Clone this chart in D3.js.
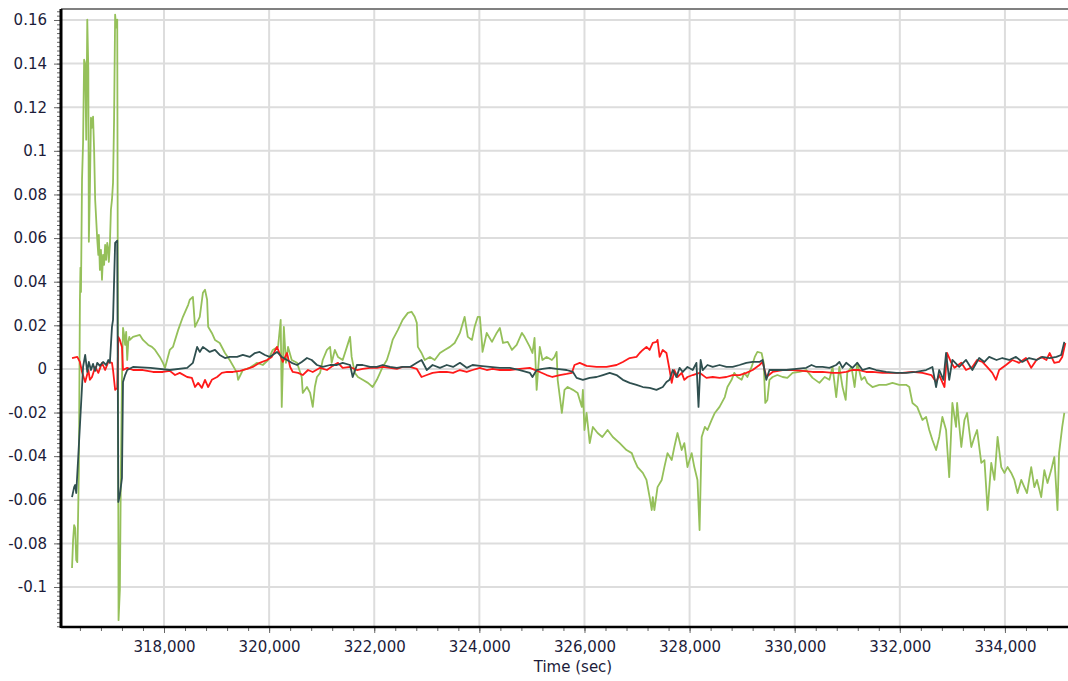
<!DOCTYPE html>
<meta charset="utf-8">
<style>
body { margin: 0; background: #fff; }
svg { display: block; }
.tick text { font-family: "DejaVu Sans", Verdana, sans-serif; font-size: 15px; fill: #1c1c3a; }
.axis-title { font-family: "DejaVu Sans", Verdana, sans-serif; font-size: 15px; fill: #1c1c3a; }
</style>
<script src="https://cdnjs.cloudflare.com/ajax/libs/d3/7.8.5/d3.min.js"></script>
<body></body>
<script>

var width = 1068;
var height = 681;
var plot = { left: 61, right: 1068, top: 9, bottom: 627 };

// tick values
var xTickValues = [318000, 320000, 322000, 324000, 326000, 328000, 330000, 332000, 334000];
var yTickValues = [0.16, 0.14, 0.12, 0.1, 0.08, 0.06, 0.04, 0.02, 0, -0.02, -0.04, -0.06, -0.08, -0.1];

// [time (sec), value]
var greenSeries = [
  [316250,-0.0913],[316270,-0.0785],[316290,-0.0716],[316310,-0.0730],[316330,-0.0877],[316350,-0.0886],
  [316380,-0.0464],[316400,0.0317],[316410,0.0464],[316420,0.0353],[316440,0.0868],[316460,0.1037],
  [316480,0.1418],[316500,0.1400],[316510,0.1235],[316520,0.1051],[316540,0.1602],[316560,0.1372],
  [316570,0.0583],[316590,0.0822],[316610,0.1152],[316630,0.1106],[316650,0.1157],[316670,0.1005],
  [316690,0.0776],[316730,0.0592],[316750,0.0523],[316760,0.0615],[316780,0.0454],[316800,0.0546],
  [316820,0.0409],[316840,0.0523],[316860,0.0477],[316880,0.0569],[316900,0.0500],[316920,0.0578],
  [316940,0.0546],[316950,0.0491],[316970,0.0569],[316990,0.0730],[317010,0.0776],[317030,0.0854],
  [317050,0.1143],[317070,0.1625],[317090,0.1565],[317110,0.1602],[317135,-0.1152],[317160,-0.1014],
  [317180,-0.0464],[317200,-0.0050],[317220,0.0188],[317240,0.0156],[317260,0.0110],[317280,0.0170],
  [317300,0.0041],[317320,0.0124],[317340,0.0147],[317350,0.0133],[317410,0.0147],[317540,0.0156],
  [317600,0.0133],[317700,0.0110],[317770,0.0101],[317830,0.0087],[317920,0.0055],[317980,0.0028],
  [318020,0.0005],[318110,0.0087],[318170,0.0101],[318270,0.0179],[318360,0.0239],[318460,0.0294],
  [318490,0.0317],[318550,0.0330],[318590,0.0193],[318680,0.0239],[318740,0.0349],[318780,0.0363],
  [318820,0.0317],[318840,0.0193],[318910,0.0165],[318970,0.0133],[319060,0.0119],[319160,0.0073],
  [319250,0.0041],[319390,-0.0018],[319410,-0.0050],[319500,-0.0005],[319630,0.0005],[319770,0.0028],
  [319880,0.0018],[319980,0.0041],[320070,0.0087],[320170,0.0101],[320220,0.0225],[320240,-0.0174],
  [320280,0.0193],[320320,0.0028],[320360,0.0101],[320430,0.0041],[320530,0.0028],[320620,-0.0037],
  [320640,-0.0110],[320720,-0.0083],[320780,-0.0110],[320830,-0.0174],[320870,-0.0083],[320910,-0.0037],
  [320970,-0.0018],[321020,0.0041],[321100,0.0087],[321160,0.0101],[321190,0.0028],[321250,0.0087],
  [321310,0.0055],[321400,0.0041],[321480,0.0101],[321540,0.0147],[321570,0.0055],[321630,-0.0018],
  [321690,-0.0037],[321780,-0.0050],[321880,-0.0064],[321970,-0.0083],[322050,-0.0050],[322110,-0.0018],
  [322160,0.0009],[322240,0.0041],[322300,0.0087],[322350,0.0133],[322450,0.0179],[322540,0.0225],
  [322640,0.0257],[322710,0.0262],[322770,0.0239],[322810,0.0211],[322830,0.0101],[322900,0.0073],
  [322960,0.0041],[323060,0.0055],[323150,0.0041],[323250,0.0073],[323340,0.0087],[323440,0.0101],
  [323530,0.0119],[323630,0.0165],[323720,0.0239],[323780,0.0147],[323860,0.0133],[323910,0.0193],
  [323970,0.0239],[324010,0.0239],[324050,0.0119],[324060,0.0078],[324140,0.0165],[324240,0.0124],
  [324330,0.0165],[324390,0.0188],[324450,0.0119],[324540,0.0124],[324620,0.0087],[324710,0.0110],
  [324810,0.0165],[324860,0.0147],[324960,0.0101],[325010,0.0073],[325050,0.0142],[325090,-0.0096],
  [325150,0.0101],[325200,0.0041],[325280,0.0055],[325380,0.0041],[325430,0.0055],[325470,0.0078],
  [325490,-0.0050],[325570,-0.0202],[325620,-0.0096],[325680,-0.0083],[325780,-0.0096],[325870,-0.0110],
  [325950,-0.0174],[325970,-0.0096],[326000,-0.0280],[326040,-0.0202],[326100,-0.0340],[326160,-0.0266],
  [326250,-0.0294],[326340,-0.0312],[326440,-0.0280],[326540,-0.0312],[326670,-0.0340],[326800,-0.0372],
  [326900,-0.0386],[326950,-0.0418],[327010,-0.0450],[327110,-0.0477],[327180,-0.0509],[327240,-0.0588],
  [327280,-0.0647],[327300,-0.0588],[327330,-0.0647],[327390,-0.0542],[327470,-0.0509],[327520,-0.0450],
  [327580,-0.0386],[327660,-0.0418],[327710,-0.0358],[327770,-0.0294],[327850,-0.0372],[327900,-0.0340],
  [327960,-0.0450],[328040,-0.0386],[328090,-0.0450],[328150,-0.0509],[328190,-0.0739],[328230,-0.0312],
  [328290,-0.0266],[328340,-0.0280],[328420,-0.0234],[328480,-0.0202],[328570,-0.0174],[328670,-0.0129],
  [328720,-0.0083],[328800,-0.0050],[328850,-0.0018],[328910,-0.0037],[328990,-0.0050],[329040,-0.0018],
  [329100,-0.0037],[329180,0.0009],[329240,0.0055],[329290,0.0078],[329370,0.0073],[329410,0.0028],
  [329440,-0.0156],[329480,-0.0142],[329520,-0.0050],[329580,-0.0037],[329670,-0.0028],[329770,-0.0037],
  [329860,-0.0041],[329960,-0.0018],[330090,-0.0014],[330220,-0.0005],[330340,-0.0041],[330470,-0.0064],
  [330570,-0.0037],[330660,-0.0050],[330720,0.0009],[330790,-0.0129],[330850,0.0009],[330910,-0.0083],
  [330970,-0.0142],[331000,-0.0018],[331080,0.0009],[331140,-0.0083],[331190,0.0028],[331270,-0.0050],
  [331330,-0.0037],[331380,-0.0064],[331480,-0.0083],[331610,-0.0073],[331740,-0.0073],[331860,-0.0064],
  [331990,-0.0073],[332120,-0.0073],[332180,-0.0083],[332240,-0.0156],[332330,-0.0174],[332430,-0.0234],
  [332500,-0.0220],[332560,-0.0280],[332620,-0.0326],[332690,-0.0372],[332750,-0.0312],[332810,-0.0220],
  [332880,-0.0280],[332940,-0.0496],[333000,-0.0156],[333070,-0.0266],[333090,-0.0156],[333170,-0.0358],
  [333230,-0.0234],[333280,-0.0202],[333360,-0.0358],[333420,-0.0312],[333470,-0.0280],[333550,-0.0431],
  [333610,-0.0418],[333670,-0.0647],[333740,-0.0431],[333800,-0.0509],[333860,-0.0312],[333930,-0.0450],
  [333990,-0.0477],[334050,-0.0450],[334120,-0.0477],[334180,-0.0509],[334240,-0.0569],[334310,-0.0509],
  [334370,-0.0542],[334420,-0.0569],[334500,-0.0450],[334560,-0.0542],[334610,-0.0509],[334690,-0.0588],
  [334750,-0.0464],[334810,-0.0523],[334880,-0.0464],[334940,-0.0404],[335000,-0.0647],[335030,-0.0386],
  [335090,-0.0266],[335130,-0.0202]
];

var slateSeries = [
  [316250,-0.0588],[316290,-0.0542],[316310,-0.0532],[316330,-0.0569],[316370,-0.0395],[316460,0.0009],
  [316500,0.0064],[316540,-0.0014],[316570,0.0032],[316610,-0.0005],[316650,0.0023],[316690,-0.0009],
  [316730,0.0028],[316780,0.0014],[316840,0.0032],[316900,0.0018],[316940,0.0041],[316970,0.0028],
  [317010,0.0193],[317030,0.0225],[317070,0.0578],[317110,0.0588],[317130,-0.0610],[317160,-0.0578],
  [317200,-0.0500],[317220,-0.0060],[317260,-0.0028],[317300,-0.0005],[317410,0.0009],[317740,0.0005],
  [318110,-0.0005],[318440,0.0005],[318550,0.0028],[318630,0.0101],[318680,0.0078],[318740,0.0101],
  [318820,0.0087],[318870,0.0078],[318970,0.0087],[319060,0.0064],[319160,0.0050],[319250,0.0055],
  [319390,0.0055],[319500,0.0064],[319630,0.0055],[319730,0.0073],[319820,0.0078],[319920,0.0064],
  [320010,0.0055],[320150,0.0078],[320240,0.0055],[320340,0.0041],[320430,0.0028],[320530,0.0018],
  [320620,0.0032],[320720,0.0050],[320810,0.0041],[320910,0.0018],[321020,0.0009],[321160,0.0018],
  [321290,0.0018],[321400,0.0028],[321540,0.0018],[321590,-0.0037],[321670,0.0018],[321780,0.0018],
  [321920,0.0009],[322050,0.0009],[322160,0.0018],[322300,0.0009],[322430,0.0005],[322540,0.0009],
  [322680,0.0009],[322810,0.0028],[322900,0.0041],[323000,-0.0005],[323110,0.0018],[323250,0.0005],
  [323380,0.0018],[323500,0.0009],[323630,0.0028],[323760,0.0005],[323870,0.0018],[324010,0.0014],
  [324200,0.0009],[324390,0.0005],[324580,0.0005],[324770,-0.0005],[324960,-0.0018],[325010,-0.0037],
  [325090,-0.0005],[325200,0],[325340,0.0005],[325470,0],[325660,-0.0005],[325780,-0.0014],
  [325850,-0.0041],[325970,-0.0050],[326100,-0.0041],[326230,-0.0037],[326350,-0.0028],[326480,-0.0018],
  [326610,-0.0028],[326730,-0.0050],[326860,-0.0064],[326990,-0.0073],[327110,-0.0083],[327240,-0.0087],
  [327370,-0.0096],[327490,-0.0083],[327560,-0.0060],[327620,-0.0050],[327680,-0.0005],[327750,-0.0037],
  [327810,0.0005],[327870,-0.0014],[327960,0.0009],[328060,-0.0005],[328130,0.0028],[328170,-0.0174],
  [328210,0.0041],[328250,-0.0005],[328340,0.0018],[328440,0.0009],[328570,0.0018],[328700,0.0009],
  [328820,0.0009],[328950,0.0018],[329080,0.0028],[329200,0.0032],[329330,0.0032],[329390,0.0041],
  [329460,-0.0050],[329520,-0.0005],[329650,-0.0005],[329840,-0.0005],[330030,0],[330220,0.0005],
  [330320,0.0018],[330410,0.0009],[330530,0.0009],[330660,0.0005],[330790,0.0018],[330850,0.0032],
  [330910,0.0005],[330980,0.0028],[331100,0.0005],[331190,0.0028],[331290,-0.0005],[331420,0.0005],
  [331550,-0.0005],[331740,-0.0014],[331930,-0.0018],[332120,-0.0018],[332310,-0.0014],[332500,-0.0005],
  [332620,0.0009],[332690,-0.0083],[332750,-0.0005],[332830,-0.0050],[332880,0.0073],[332940,-0.0050],
  [333000,0.0041],[333130,0.0009],[333260,0.0041],[333380,-0.0005],[333510,0.0050],[333610,0.0032],
  [333700,0.0055],[333840,0.0041],[333950,0.0050],[334080,0.0041],[334210,0.0055],[334330,0.0032],
  [334460,0.0050],[334600,0.0041],[334710,0.0055],[334850,0.0050],[334980,0.0055],[335070,0.0064],
  [335130,0.0124]
];

var redSeries = [
  [316250,0.0050],[316350,0.0055],[316400,0.0032],[316440,-0.0014],[316500,-0.0060],[316560,-0.0005],
  [316590,-0.0050],[316630,-0.0037],[316690,0.0009],[316750,-0.0018],[316820,0.0028],[316880,-0.0005],
  [316940,0.0032],[317010,0.0028],[317030,-0.0005],[317070,-0.0096],[317110,-0.0087],[317130,0.0147],
  [317160,0.0133],[317200,0.0101],[317220,-0.0005],[317300,0.0005],[317410,-0.0005],[317600,-0.0005],
  [317790,-0.0014],[317980,-0.0014],[318110,-0.0009],[318210,-0.0028],[318300,-0.0018],[318440,-0.0037],
  [318530,-0.0041],[318590,-0.0083],[318650,-0.0064],[318720,-0.0087],[318780,-0.0050],[318840,-0.0083],
  [318910,-0.0050],[319010,-0.0037],[319100,-0.0018],[319200,-0.0014],[319310,-0.0014],[319450,-0.0009],
  [319580,0],[319690,0.0009],[319820,0.0028],[319960,0.0041],[320050,0.0055],[320150,0.0101],
  [320210,0.0064],[320260,0.0032],[320340,0.0073],[320400,0.0009],[320450,-0.0014],[320550,-0.0018],
  [320640,-0.0028],[320740,-0.0005],[320830,-0.0014],[320970,0.0005],[321100,-0.0005],[321210,0.0014],
  [321310,0.0028],[321400,0.0005],[321540,0.0009],[321670,-0.0005],[321780,0],[321920,0.0005],
  [322050,0.0005],[322160,0.0009],[322300,0.0005],[322430,0],[322540,0.0009],[322680,0.0009],
  [322810,0],[322900,-0.0037],[323000,-0.0028],[323110,-0.0018],[323250,-0.0014],[323380,-0.0014],
  [323500,-0.0018],[323630,-0.0005],[323760,-0.0014],[323870,-0.0005],[324010,0.0005],[324140,-0.0005],
  [324250,0],[324390,-0.0005],[324580,-0.0005],[324770,0],[324960,0.0005],[325150,-0.0014],
  [325280,-0.0028],[325390,-0.0037],[325530,-0.0028],[325660,-0.0023],[325760,-0.0018],[325810,0.0018],
  [325910,0.0028],[326040,0.0014],[326230,0.0009],[326420,0.0009],[326610,0.0018],[326730,0.0032],
  [326860,0.0050],[326990,0.0055],[327050,0.0073],[327110,0.0087],[327180,0.0101],[327240,0.0087],
  [327300,0.0119],[327370,0.0124],[327390,0.0133],[327430,0.0055],[327490,0.0087],[327560,0.0073],
  [327620,-0.0005],[327660,-0.0064],[327710,-0.0005],[327770,-0.0037],[327850,-0.0018],[327900,-0.0050],
  [327960,-0.0037],[328060,-0.0028],[328190,-0.0018],[328320,-0.0041],[328440,-0.0037],[328570,-0.0041],
  [328700,-0.0037],[328820,-0.0028],[328950,-0.0028],[329080,-0.0018],[329200,-0.0005],[329330,0.0018],
  [329390,0.0032],[329460,-0.0037],[329580,-0.0014],[329770,-0.0005],[329960,-0.0005],[330150,-0.0009],
  [330340,-0.0014],[330530,-0.0014],[330720,-0.0018],[330850,-0.0018],[330980,-0.0014],[331100,-0.0005],
  [331230,-0.0005],[331360,-0.0014],[331480,-0.0014],[331670,-0.0018],[331860,-0.0018],[332050,-0.0018],
  [332240,-0.0014],[332430,-0.0018],[332600,-0.0028],[332690,-0.0060],[332750,-0.0028],[332850,-0.0083],
  [332900,0.0073],[332980,0.0028],[333040,0.0005],[333170,0.0028],[333260,-0.0005],[333380,0.0009],
  [333470,0.0041],[333570,0.0032],[333660,0.0009],[333760,-0.0018],[333830,-0.0050],[333890,-0.0005],
  [334020,0.0018],[334140,0.0041],[334270,0.0028],[334400,0.0050],[334500,0.0005],[334600,0.0041],
  [334690,0.0055],[334790,0.0041],[334850,0.0073],[334940,0.0028],[335030,0.0032],[335090,0.0055],
  [335150,0.0119]
];

var x = d3.scaleLinear().domain([316040, 335200]).range([plot.left, plot.right]);
var y = d3.scaleLinear().domain([-0.11834, 0.16504]).range([plot.bottom, plot.top]);

var svg = d3.select('body').append('svg')
  .attr('width', width)
  .attr('height', height);

//grid
svg.append('g')
  .selectAll('line')
  .data(yTickValues)
  .enter().append('line')
  .attr('x1', plot.left).attr('x2', plot.right)
  .attr('y1', d => y(d)).attr('y2', d => y(d))
  .attr('stroke', '#dddddd').attr('stroke-width', 2);
svg.append('g')
  .selectAll('line')
  .data(xTickValues)
  .enter().append('line')
  .attr('x1', d => x(d)).attr('x2', d => x(d))
  .attr('y1', plot.top).attr('y2', plot.bottom)
  .attr('stroke', '#dddddd').attr('stroke-width', 2);

//top border
svg.append('line')
  .attr('x1', plot.left).attr('x2', plot.right)
  .attr('y1', plot.top).attr('y2', plot.top)
  .attr('stroke', '#808080').attr('stroke-width', 2);

//series
var line = d3.line()
  .x(d => x(d[0]))
  .y(d => y(d[1]));

var series = [
  { data: greenSeries, color: '#95c05a' },
  { data: redSeries, color: '#ff1a1a' },
  { data: slateSeries, color: '#2f4f4f' }
];
svg.append('g')
  .selectAll('path')
  .data(series)
  .enter().append('path')
  .attr('d', d => line(d.data))
  .attr('fill', 'none')
  .attr('stroke', d => d.color)
  .attr('stroke-width', 1.8)
  .attr('stroke-linejoin', 'round');

//minor ticks
var yMinor = d3.range(-0.118, 0.165, 0.002);
var xMinor = d3.range(316400, 335200, 400);

svg.append('g')
  .attr('transform', 'translate(' + plot.left + ',0)')
  .call(d3.axisLeft(y).tickValues(yMinor).tickSize(4).tickFormat(''))
  .call(g => g.select('.domain').remove())
  .selectAll('line').attr('stroke', '#666');

svg.append('g')
  .attr('transform', 'translate(0,' + plot.bottom + ')')
  .call(d3.axisBottom(x).tickValues(xMinor).tickSize(4).tickFormat(''))
  .call(g => g.select('.domain').remove())
  .selectAll('line').attr('stroke', '#666');

//major axes
var yAxis = svg.append('g')
  .attr('transform', 'translate(' + plot.left + ',0)')
  .call(d3.axisLeft(y).tickValues(yTickValues).tickSize(7).tickPadding(7).tickFormat(d => String(d)));
yAxis.select('.domain').remove();
yAxis.selectAll('line').attr('stroke', '#666');

var xAxis = svg.append('g')
  .attr('transform', 'translate(0,' + plot.bottom + ')')
  .call(d3.axisBottom(x).tickValues(xTickValues).tickSize(6).tickPadding(8).tickFormat(d3.format(',')));
xAxis.select('.domain').remove();
xAxis.selectAll('line').attr('stroke', '#666');

//axis lines
svg.append('line')
  .attr('x1', plot.left).attr('x2', plot.left)
  .attr('y1', plot.top).attr('y2', plot.bottom + 1)
  .attr('stroke', '#000').attr('stroke-width', 3);
svg.append('line')
  .attr('x1', plot.left).attr('x2', plot.right)
  .attr('y1', plot.bottom).attr('y2', plot.bottom)
  .attr('stroke', '#000').attr('stroke-width', 2.5);

svg.append('text')
  .attr('class', 'axis-title')
  .attr('x', 573)
  .attr('y', 672)
  .attr('text-anchor', 'middle')
  .text('Time (sec)');

</script>
